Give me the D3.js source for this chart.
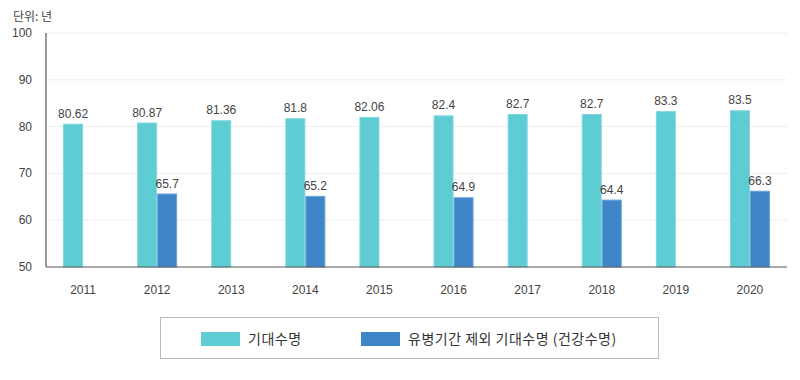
<!DOCTYPE html>
<html><head><meta charset="utf-8">
<script src="https://cdn.jsdelivr.net/npm/d3@7"></script>
<style>body{margin:0;background:#fff;}svg{display:block;}</style>
</head><body>
<svg id="chart" width="800" height="380"></svg>
<script>
const years = ["2011","2012","2013","2014","2015","2016","2017","2018","2019","2020"];
const lifeExpectancy = [80.62, 80.87, 81.36, 81.8, 82.06, 82.4, 82.7, 82.7, 83.3, 83.5];
const healthyLife = [null, 65.7, null, 65.2, null, 64.9, null, 64.4, null, 66.3];
const yTicks = [50, 60, 70, 80, 90, 100];
const seriesNames = ["기대수명", "유병기간 제외 기대수명 (건강수명)"];
const colors = ["#5ECCD3", "#3F86C9"];
const strokes = ["#7fd8de", "#6aa3d6"];

(function () {
const svg = d3.select("#chart");
const pLeft = 46, pRight = 787, pTop = 33, pBottom = 267;
const font = "'Liberation Sans', Arial, 'Noto Sans CJK KR', sans-serif";
const kfont = "'Noto Sans CJK KR', 'Liberation Sans', sans-serif";

const x = d3.scaleBand().domain(years).range([pLeft, pRight]);
const y = d3.scaleLinear().domain([50, 100]).range([pBottom, pTop]);
const barW = 20;

svg.append("g").selectAll("line").data(yTicks.filter(t => t > 50)).join("line")
  .attr("x1", pLeft).attr("x2", pRight)
  .attr("y1", d => y(d)).attr("y2", d => y(d))
  .attr("stroke", "#eeeeee").attr("stroke-width", 1);

svg.append("g").selectAll("text").data(yTicks).join("text")
  .attr("x", 32).attr("y", d => y(d) + 4)
  .attr("text-anchor", "end").attr("font-family", font).attr("font-size", 12)
  .attr("fill", "#444").text(d => d);

svg.append("text").attr("x", 13).attr("y", 21).attr("font-family", kfont)
  .attr("font-size", 12).attr("fill", "#444").text("단위: 년");

const s1 = years.map((yr, i) => ({yr, v: lifeExpectancy[i]}));
const s2 = years.map((yr, i) => ({yr, v: healthyLife[i]})).filter(d => d.v != null);

svg.append("g").selectAll("rect").data(s1).join("rect")
  .attr("x", d => x(d.yr) + x.bandwidth()/2 - barW + 0.5)
  .attr("y", d => y(d.v) + 0.5)
  .attr("width", barW - 1).attr("height", d => pBottom - y(d.v) - 0.5)
  .attr("fill", colors[0]).attr("stroke", strokes[0]).attr("stroke-width", 1);

svg.append("g").selectAll("rect").data(s2).join("rect")
  .attr("x", d => x(d.yr) + x.bandwidth()/2 + 0.5)
  .attr("y", d => y(d.v) + 0.5)
  .attr("width", barW - 1).attr("height", d => pBottom - y(d.v) - 0.5)
  .attr("fill", colors[1]).attr("stroke", strokes[1]).attr("stroke-width", 1);

svg.append("g").selectAll("text").data(s1).join("text")
  .attr("x", d => x(d.yr) + x.bandwidth()/2 - barW/2)
  .attr("y", d => y(d.v) - 6)
  .attr("text-anchor", "middle").attr("font-family", font).attr("font-size", 12)
  .attr("fill", "#444").text(d => d.v);
svg.append("g").selectAll("text").data(s2).join("text")
  .attr("x", d => x(d.yr) + x.bandwidth()/2 + barW/2)
  .attr("y", d => y(d.v) - 6)
  .attr("text-anchor", "middle").attr("font-family", font).attr("font-size", 12)
  .attr("fill", "#444").text(d => d.v);

svg.append("line").attr("x1", pLeft).attr("x2", pLeft).attr("y1", pTop).attr("y2", pBottom)
  .attr("stroke", "#555").attr("stroke-width", 1.2);
svg.append("line").attr("x1", pLeft).attr("x2", pRight).attr("y1", pBottom).attr("y2", pBottom)
  .attr("stroke", "#555").attr("stroke-width", 1.2);

svg.append("g").selectAll("text").data(years).join("text")
  .attr("x", d => x(d) + x.bandwidth()/2).attr("y", 294)
  .attr("text-anchor", "middle").attr("font-family", font).attr("font-size", 12)
  .attr("fill", "#444").text(d => d);

svg.append("rect").attr("x", 160.5).attr("y", 317.5).attr("width", 498).attr("height", 41)
  .attr("fill", "#fff").attr("stroke", "#bbb").attr("stroke-width", 1);
const legX = [201, 361];
seriesNames.forEach((n, i) => {
  svg.append("rect").attr("x", legX[i]).attr("y", 332).attr("width", 39).attr("height", 14)
    .attr("fill", colors[i]);
  svg.append("text").attr("x", legX[i] + 47).attr("y", 344)
    .attr("font-family", kfont).attr("font-size", 14).attr("letter-spacing", 0.5)
    .attr("fill", "#333").text(n);
});
})();
</script>
</body></html>
